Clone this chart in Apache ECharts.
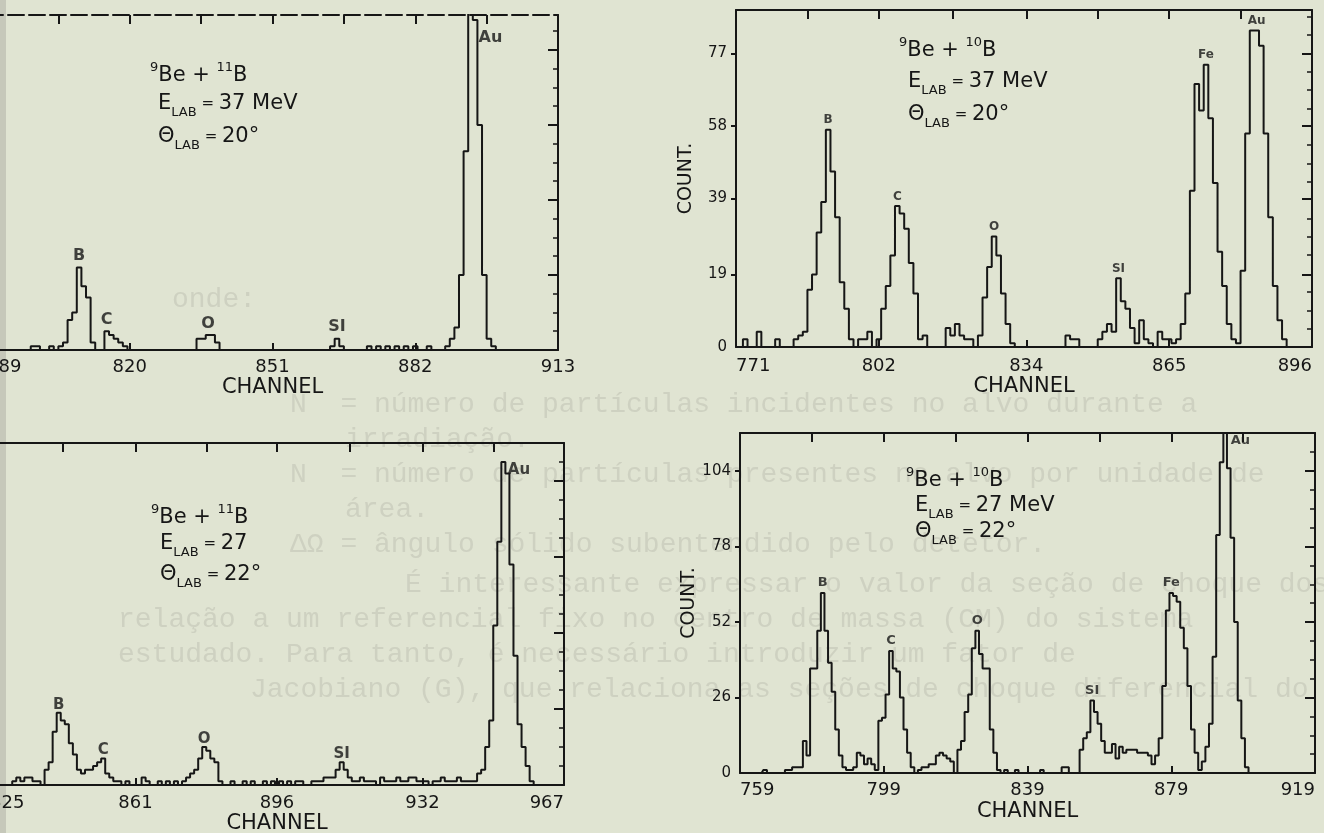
<!DOCTYPE html>
<html>
<head>
<meta charset="utf-8">
<title>Espectros 9Be + 10B / 11B</title>
<script src="https://cdn.jsdelivr.net/npm/echarts@6.0.0/dist/echarts.min.js"></script>
<style>
html,body{margin:0;padding:0;background:#e0e4d2;overflow:hidden}
#chart{width:1324px;height:833px}
</style>
</head>
<body>
<div id="chart"></div>
<script>
// ---------------- DATA ----------------
// Panel A (top-left): 9Be + 11B, E_LAB = 37 MeV, theta_LAB = 20 deg
const aFirstChannel = 789;
const aCounts = [
  0,0,0,0,0,0,0,0,0,0,        // 789-798
  1,1,0,0,1,0,1,2,8,10,       // 799-808
  22,17,14,2,0,0,5,4,3,2,     // 809-818
  1,0,0,0,0,0,0,0,0,0,        // 819-828
  0,0,0,0,0,0,3,3,4,4,        // 829-838
  2,0,0,0,0,0,0,0,0,0,        // 839-848
  0,0,0,0,0,0,0,0,0,0,        // 849-858
  0,0,0,0,0,1,3,1,0,0,        // 859-868
  0,0,0,1,0,1,0,1,0,1,        // 869-878
  0,1,0,1,0,0,1,0,0,0,        // 879-888
  1,3,6,20,53,120,88,60,20,3, // 889-898
  1,0,0,0,0,0,0,0,0,0,        // 899-908
  0,0,0,0,0               // 909-913
];
const aChannelLabels = [789, 820, 851, 882, 913];
const aCountTicks = [0, 20, 40, 60, 80];
const aPeakNames = ['B', 'C', 'O', 'SI', 'Au'];
const aPeakChannels = [809, 815, 837, 865, 895];
const aReaction = ['9', 'Be', '11', 'B'];
const aEnergy = '37 MeV';
const aAngle = '20°';

// Panel B (top-right): 9Be + 10B, E_LAB = 37 MeV, theta_LAB = 20 deg
const bFirstChannel = 771;
const bCounts = [
  0,0,2,0,0,4,0,0,0,2,        // 771-780
  0,0,0,2,3,4,15,19,30,38,    // 781-790
  57,46,34,17,10,2,0,2,2,4,   // 791-800
  0,2,10,16,24,37,35,31,22,14,// 801-810
  2,3,0,0,0,0,5,3,6,3,        // 811-820
  2,2,0,3,13,21,29,24,14,6,   // 821-830
  1,0,0,0,0,0,0,0,0,0,        // 831-840
  0,0,3,2,2,0,0,0,0,2,        // 841-850
  4,6,4,18,12,10,5,1,7,2,     // 851-860
  1,0,4,2,2,1,2,6,14,41,      // 861-870
  69,62,74,60,43,25,16,6,2,1, // 871-880
  20,56,83,83,79,56,34,16,7,2,// 881-890
  0,0,0,0,0,0                 // 891-896
];
const bChannelLabels = [771, 802, 834, 865, 896];
const bCountTicks = [0, 19, 39, 58, 77];
const bPeakNames = ['B', 'C', 'O', 'SI', 'Fe', 'Au'];
const bPeakChannels = [791, 806, 827, 854, 873, 884];
const bReaction = ['9', 'Be', '10', 'B'];
const bEnergy = '37 MeV';
const bAngle = '20°';

// Panel C (bottom-left): 9Be + 11B, E_LAB = 27, theta_LAB = 22 deg
const cFirstChannel = 825;
const cCounts = [
  0,0,0,0,0,0,1,2,1,2,        // 825-834
  2,1,1,0,4,6,14,19,17,16,    // 835-844
  11,8,4,3,4,4,5,6,7,3,       // 845-854
  2,1,1,0,1,0,0,0,2,1,        // 855-864
  0,0,1,0,1,0,1,0,1,2,        // 865-874
  3,4,7,10,9,7,6,1,0,0,       // 875-884
  1,0,0,1,0,1,0,0,1,0,        // 885-894
  1,0,1,0,1,0,1,1,0,0,        // 895-904
  1,1,1,2,2,2,4,6,4,2,        // 905-914
  1,1,2,1,1,1,0,2,1,1,        // 915-924
  1,2,1,1,2,2,1,1,1,0,        // 925-934
  1,1,2,1,1,1,2,1,1,1,        // 935-944
  1,3,4,10,17,42,64,85,82,58, // 945-954
  34,16,10,5,1,0,0,0,0,0,     // 955-964
  0,0,0                       // 965-967
];
const cChannelLabels = [825, 861, 896, 932, 967];
const cCountTicks = [0, 20, 40, 60, 80];
const cPeakNames = ['B', 'C', 'O', 'SI', 'Au'];
const cPeakChannels = [842, 853, 878, 912, 952];
const cReaction = ['9', 'Be', '11', 'B'];
const cEnergy = '27';
const cAngle = '22°';

// Panel D (bottom-right): 9Be + 10B, E_LAB = 27 MeV, theta_LAB = 22 deg
const dFirstChannel = 759;
const dCounts = [
  0,0,0,0,0,0,0,1,0,0,        // 759-768
  0,0,0,1,1,2,2,2,11,6,       // 769-778
  36,36,49,62,49,38,28,15,6,2,// 779-788
  1,1,2,7,6,3,5,3,1,18,       // 789-798
  19,27,42,36,35,26,15,7,2,0, // 799-808
  1,2,2,3,3,6,7,6,5,4,        // 809-818
  0,8,11,21,27,43,49,41,36,36,// 819-828
  15,7,1,0,1,0,0,1,0,0,       // 829-838
  0,0,0,0,1,0,0,0,0,0,        // 839-848
  2,2,0,0,0,8,12,14,25,21,    // 849-858
  17,11,7,7,10,5,9,7,8,8,     // 859-868
  8,7,7,7,6,3,6,12,30,56,     // 869-878
  62,61,59,50,43,30,15,7,1,4, // 879-888
  9,17,40,82,107,130,105,81,52,25, // 889-898
  12,2,0,0,0,0,0,0,0,0,       // 899-908
  0,0,0,0,0,0,0,0,0,0,        // 909-918
  0                           // 919
];
const dChannelLabels = [759, 799, 839, 879, 919];
const dCountTicks = [0, 26, 52, 78, 104];
const dPeakNames = ['B', 'C', 'O', 'SI', 'Fe', 'Au'];
const dPeakChannels = [782, 801, 825, 857, 879, 894];
const dReaction = ['9', 'Be', '10', 'B'];
const dEnergy = '27 MeV';
const dAngle = '22°';

// faint text showing through the paper
const pageLines = [
  'onde:',
  'N  = número de partículas incidentes no alvo durante a',
  'irradiação.',
  'N  = número de partículas presentes no alvo por unidade de',
  'área.',
  'ΔΩ = ângulo sólido subentendido pelo detetor.',
  'É interessante expressar o valor da seção de choque dos',
  'relação a um referencial fixo no centro de massa (CM) do sistema',
  'estudado. Para tanto, é necessário introduzir um fator de',
  'Jacobiano (G), que relaciona as seções de choque diferencial do'
];

// ---------------- STYLE / LAYOUT ----------------
const INK = '#161616';
const FONT = 'DejaVu Sans';

const panels = [
  { first: aFirstChannel, counts: aCounts, xLabels: aChannelLabels, yTicks: aCountTicks, showY: false,
    peaks: aPeakNames, peakCh: aPeakChannels, reaction: aReaction, energy: aEnergy, angle: aAngle,
    grid: { left: -13, top: 15, width: 571, height: 335 }, yMax: 89.33, dashedTop: true,
    labelMargin: 8, nameGap: 27, maxAlign: 'center', peakFont: 16, peakDist: 3,
    au: { position: 'right', distance: 3, offset: [0, 18] },
    note: { x1: 150, x2: 158, ys: [76, 104, 137] } },
  { first: bFirstChannel, counts: bCounts, xLabels: bChannelLabels, yTicks: bCountTicks, showY: true,
    peaks: bPeakNames, peakCh: bPeakChannels, reaction: bReaction, energy: bEnergy, angle: bAngle,
    grid: { left: 736, top: 10, width: 576, height: 337 }, yMax: 88.38, dashedTop: false,
    labelMargin: 10, nameGap: 27, maxAlign: 'right', peakFont: 12, peakDist: 3,
    au: null,
    note: { x1: 899, x2: 908, ys: [51, 82, 115] } },
  { first: cFirstChannel, counts: cCounts, xLabels: cChannelLabels, yTicks: cCountTicks, showY: false,
    peaks: cPeakNames, peakCh: cPeakChannels, reaction: cReaction, energy: cEnergy, angle: cAngle,
    grid: { left: -10, top: 443, width: 574, height: 342 }, yMax: 90, dashedTop: false,
    labelMargin: 9, nameGap: 27, maxAlign: 'right', peakFont: 15, peakDist: 0,
    au: { position: 'right', distance: 4, offset: [0, 8] },
    note: { x1: 151, x2: 160, ys: [518, 544, 575] } },
  { first: dFirstChannel, counts: dCounts, xLabels: dChannelLabels, yTicks: dCountTicks, showY: true,
    peaks: dPeakNames, peakCh: dPeakChannels, reaction: dReaction, energy: dEnergy, angle: dAngle,
    grid: { left: 740, top: 433, width: 575, height: 340 }, yMax: 117.1, dashedTop: false,
    labelMargin: 8, nameGap: 28, maxAlign: 'right', peakFont: 13, peakDist: 3,
    au: { position: 'right', distance: 5, offset: [0, 8] },
    note: { x1: 906, x2: 915, ys: [481, 506, 532] } }
];

const grids = [], xAxes = [], yAxes = [], series = [], elements = [];

// paper edge on the left
elements.push({ type: 'rect', z: -20, shape: { x: 0, y: 0, width: 6, height: 833 }, style: { fill: '#c6c8ba' } });

// faint text lines from the other side of the page
const pagePos = [[172, 300], [290, 405], [345, 440], [290, 475], [345, 510], [290, 545], [405, 585], [118, 620], [118, 655], [250, 690]];
pageLines.forEach((t, k) => {
  elements.push({ type: 'text', z: -10, x: pagePos[k][0], y: pagePos[k][1], silent: true,
    style: { text: t, fill: '#ced1c1', font: '28px "Liberation Mono"', textVerticalAlign: 'middle', verticalAlign: 'middle' } });
});

const lineStyleInk = { color: INK, width: 2 };

panels.forEach((p, i) => {
  grids.push(Object.assign({ show: false, containLabel: false, outerBoundsMode: 'none' }, p.grid));
  const xMin = p.first, xMax = p.first + p.counts.length - 1;
  const xl = p.xLabels;
  const topTicks = [];
  for (let k = 0; k < xl.length - 1; k++) {
    if (k > 0) topTicks.push(xl[k]);
    topTicks.push((xl[k] + xl[k + 1]) / 2);
  }
  const step = (p.yTicks[p.yTicks.length - 1] - p.yTicks[0]) / (p.yTicks.length - 1);
  const minor = [];
  for (let v = step / 4, k = 1; v < p.yMax - 0.5; k++, v = k * step / 4) {
    if (k % 4 !== 0) minor.push(v);
  }

  // bottom x axis
  xAxes.push({
    gridIndex: i, type: 'value', position: 'bottom', min: xMin, max: xMax,
    axisLine: { show: true, onZero: false, lineStyle: lineStyleInk },
    axisTick: { show: true, inside: true, length: 7, customValues: xl.slice(1, -1), lineStyle: lineStyleInk },
    axisLabel: { show: true, customValues: xl, formatter: v => String(Math.round(v)), color: INK,
      fontFamily: FONT, fontSize: 18, margin: p.labelMargin, showMinLabel: true, showMaxLabel: true,
      alignMinLabel: 'left', alignMaxLabel: p.maxAlign },
    splitLine: { show: false },
    name: 'CHANNEL', nameLocation: 'middle', nameGap: p.nameGap,
    nameTextStyle: { color: INK, fontFamily: FONT, fontSize: 21 }
  });
  // top frame
  xAxes.push({
    gridIndex: i, type: 'value', position: 'top', min: xMin, max: xMax,
    axisLine: { show: true, onZero: false, lineStyle: { color: INK, width: 2, type: p.dashedTop ? [16, 5] : 'solid' } },
    axisTick: { show: true, inside: true, length: 9, customValues: topTicks, lineStyle: lineStyleInk },
    axisLabel: { show: false }, splitLine: { show: false }
  });
  // left y axis
  yAxes.push({
    gridIndex: i, type: 'value', position: 'left', min: 0, max: p.yMax,
    axisLine: { show: true, onZero: false, lineStyle: lineStyleInk },
    axisTick: { show: true, inside: false, length: 5, customValues: p.yTicks.slice(1), lineStyle: lineStyleInk },
    axisLabel: { show: p.showY, customValues: p.yTicks, color: INK, fontFamily: FONT, fontSize: 15, margin: 9,
      showMinLabel: true, showMaxLabel: true },
    splitLine: { show: false },
    name: p.showY ? 'COUNT.' : '', nameLocation: 'middle', nameRotate: 90, nameGap: 40,
    nameTextStyle: { color: INK, fontFamily: FONT, fontSize: 19 }
  });
  // right frame, major ticks
  yAxes.push({
    gridIndex: i, type: 'value', position: 'right', min: 0, max: p.yMax,
    axisLine: { show: true, onZero: false, lineStyle: lineStyleInk },
    axisTick: { show: true, inside: true, length: 10, customValues: p.yTicks.slice(1), lineStyle: lineStyleInk },
    axisLabel: { show: false }, splitLine: { show: false }
  });
  // right frame, minor ticks
  yAxes.push({
    gridIndex: i, type: 'value', position: 'right', min: 0, max: p.yMax,
    axisLine: { show: false },
    axisTick: { show: true, inside: true, length: 5, customValues: minor, lineStyle: { color: INK, width: 1.5 } },
    axisLabel: { show: false }, splitLine: { show: false }
  });

  // histogram
  series.push({
    type: 'line', xAxisIndex: 2 * i, yAxisIndex: 3 * i, step: 'middle', symbol: 'none', showSymbol: false,
    clip: true, z: 3, silent: true,
    lineStyle: { color: INK, width: 2 },
    data: p.counts.map((c, k) => [p.first + k, c])
  });

  // peak labels
  series.push({
    type: 'scatter', xAxisIndex: 2 * i, yAxisIndex: 3 * i, symbolSize: 1, clip: false, z: 4, silent: true,
    itemStyle: { color: 'rgba(0,0,0,0)' },
    label: { show: true, position: 'top', distance: p.peakDist, formatter: d => d.name, color: INK,
      fontFamily: FONT, fontSize: p.peakFont, fontWeight: 'bold' },
    data: p.peaks.map((n, k) => {
      const ch = p.peakCh[k];
      const c = p.counts[ch - p.first];
      const item = { name: n, value: [ch, Math.min(c, p.yMax)] };
      if (n === 'Au' && p.au) item.label = Object.assign({}, p.au);
      return item;
    })
  });

  // reaction / energy / angle note
  const rich = {
    m: { fontSize: 21, fontFamily: FONT, fill: INK, lineHeight: 30 },
    p: { fontSize: 13, fontFamily: FONT, fill: INK, lineHeight: 6, verticalAlign: 'top' },
    s: { fontSize: 13, fontFamily: FONT, fill: INK, lineHeight: 15, verticalAlign: 'bottom' },
    q: { fontSize: 15, fontFamily: FONT, fill: INK, lineHeight: 30 }
  };
  const r = p.reaction;
  const lines = [
    '{p|' + r[0] + '}{m|' + r[1] + ' + }{p|' + r[2] + '}{m|' + r[3] + '}',
    '{m|E}{s|LAB}{q| = }{m|' + p.energy + '}',
    '{m|Θ}{s|LAB}{q| = }{m|' + p.angle + '}'
  ];
  lines.forEach((t, k) => {
    elements.push({ type: 'text', z: 5, silent: true, x: k === 0 ? p.note.x1 : p.note.x2, y: p.note.ys[k],
      style: { text: t, rich: rich, fill: INK, align: 'left', textAlign: 'left', verticalAlign: 'middle', textVerticalAlign: 'middle' } });
  });
});

const chart = echarts.init(document.getElementById('chart'), null, { renderer: 'canvas', width: 1324, height: 833 });
chart.setOption({
  backgroundColor: '#e0e4d2',
  animation: false,
  textStyle: { fontFamily: FONT },
  grid: grids,
  xAxis: xAxes,
  yAxis: yAxes,
  series: series,
  graphic: { elements: elements }
});
</script>
</body>
</html>
